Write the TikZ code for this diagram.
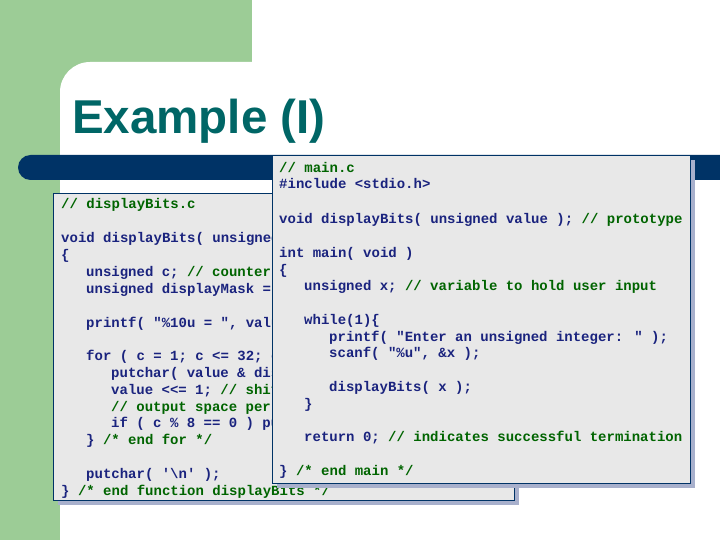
\documentclass[tikz,border=0pt]{standalone}
\usepackage{fontspec}
\setmainfont{Liberation Sans}
\newfontfamily\codefont{Liberation Mono}
\definecolor{slidegreen}{HTML}{9CCC96}
\definecolor{navybar}{HTML}{003366}
\definecolor{titleteal}{HTML}{006666}
\definecolor{codeblue}{HTML}{1A237E}
\definecolor{codegreen}{HTML}{006400}
\definecolor{boxfill}{HTML}{E8E8E8}
\definecolor{shadowblue}{HTML}{A8B0CC}
\newcommand{\cm}[1]{\textcolor{codegreen}{#1}}
\tikzset{
  code/.style={anchor=base west,inner sep=0pt,text=codeblue,font=\codefont\bfseries\fontsize{14}{16}\selectfont},
  codebox/.style={fill=boxfill,draw=navybar,line width=0.8pt}
}
\begin{document}
\begin{tikzpicture}[x=1pt,y=-1pt]
        \useasboundingbox (0,0) rectangle (720,540);
        % background
        \fill [white] (0,0) rectangle (720,540);
        \fill [slidegreen] (0,0) rectangle (252,100);
        \fill [slidegreen] (0,0) rectangle (60,540);
        \fill [white, rounded corners=30pt] (60,62) rectangle (760,560);
        \node [anchor=base west,inner sep=0pt,text=titleteal,font=\bfseries\fontsize{47.5}{50}\selectfont] (title) at (72,134) {Example (I)};
        \fill [navybar, rounded corners=12.5pt] (18,155) rectangle (740,180);
        % displayBits.c
        \fill [shadowblue] (58,198) rectangle (519,505);
        \draw [codebox] (53,193) rectangle (514,500);
        \node [code] (l1) at (61,209) {\cm{// displayBits.c}};
        \node [code] (l2) at (61,243) {void displayBits( unsigned value )};
        \node [code] (l3) at (61,259) {\{};
        \node [code] (l4) at (86,276) {unsigned c; \cm{// counter}};
        \node [code] (l5) at (86,293) {unsigned displayMask = 1 << 31;};
        \node [code] (l6) at (86,327) {printf( "\%10u = ", value );};
        \node [code] (l7) at (86,360) {for ( c = 1; c <= 32; c++ ) \{};
        \node [code] (l8) at (111,377) {putchar( value \& displayMask ? '1' : '0' );};
        \node [code] (l9) at (111,394) {value <<= 1; \cm{// shift value left by 1}};
        \node [code] (l10) at (111,411) {\cm{// output space per 8 bits}};
        \node [code] (l11) at (111,427) {if ( c \% 8 == 0 ) putchar( ' ' );};
        \node [code] (l12) at (86,444) {\} \cm{/* end for */}};
        \node [code] (l13) at (86,478) {putchar( '\textbackslash n' );};
        \node [code] (l14) at (61,495) {\} \cm{/* end function displayBits */}};
        % main.c
        \fill [shadowblue] (277,160) rectangle (695,488);
        \draw [codebox] (272,155) rectangle (690,483);
        \node [code] (r1) at (279,173) {\cm{// main.c}};
        \node [code] (r2) at (279,189) {\#include <stdio.h>};
        \node [code] (r3) at (279,223) {void displayBits( unsigned value ); \cm{// prototype}};
        \node [code] (r4) at (279,257) {int main( void )};
        \node [code] (r5) at (279,274) {\{};
        \node [code] (r6) at (304,290) {unsigned x; \cm{// variable to hold user input}};
        \node [code] (r7) at (304,324) {while(1)\{};
        \node [code] (r8) at (329,341) {printf( "Enter an unsigned integer: " );};
        \node [code] (r9) at (329,357) {scanf( "\%u", \&x );};
        \node [code] (r10) at (329,391) {displayBits( x );};
        \node [code] (r11) at (304,408) {\}};
        \node [code] (r12) at (304,441) {return 0; \cm{// indicates successful termination}};
        \node [code] (r13) at (279,475) {\} \cm{/* end main */}};
\end{tikzpicture}
\end{document}
